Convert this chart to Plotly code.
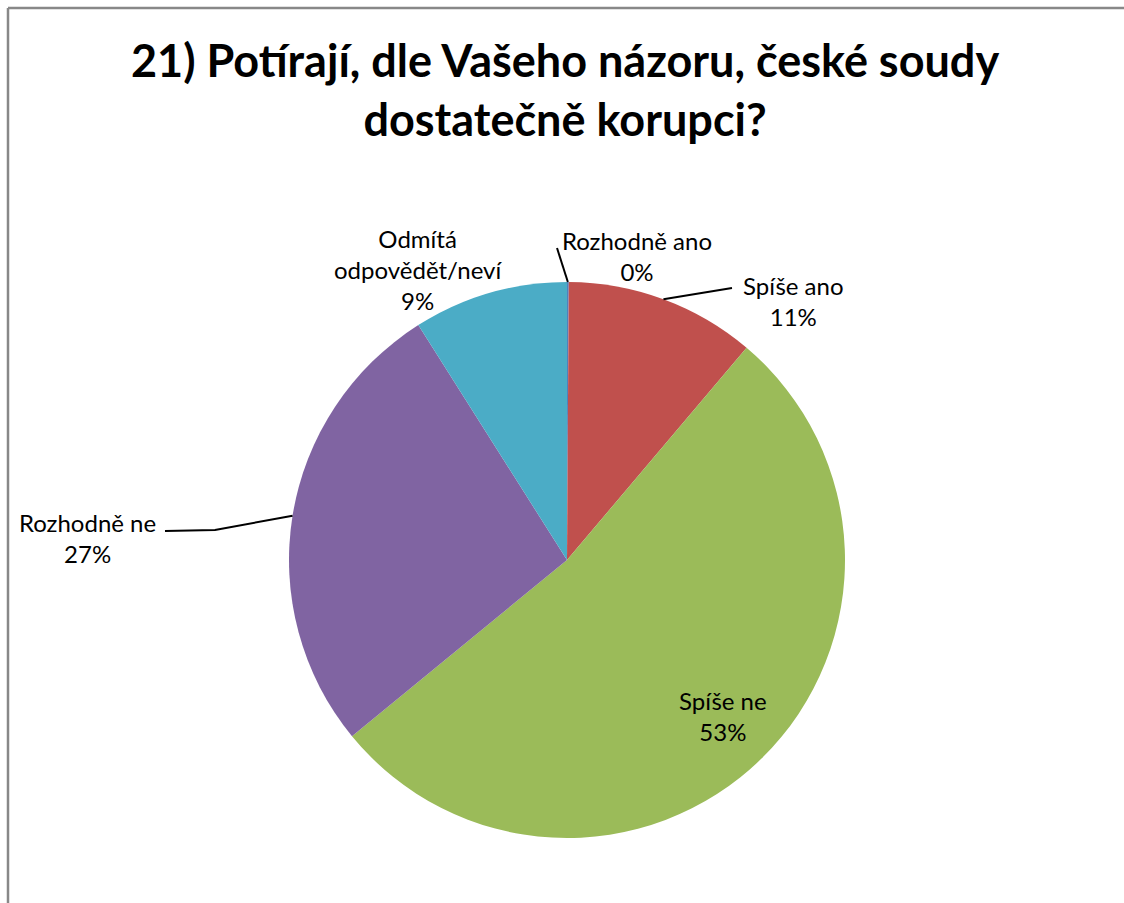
import numpy as np
import plotly.graph_objects as go

W, H = 1124, 903

title_lines = ["21) Potírají, dle Vašeho názoru, české soudy", "dostatečně korupci?"]
categories = ["Rozhodně ano", "Spíše ano", "Spíše ne", "Rozhodně ne", "Odmítá<br>odpovědět/neví"]
values = [0.1, 11.1, 53, 27, 9]
pct_labels = ["0%", "11%", "53%", "27%", "9%"]
colors = ["#4F81BD", "#C0504D", "#9BBB59", "#8064A2", "#4BACC6"]

# pie geometry (pixels)
cx, cy, R = 567, 560, 278

def px(x):
    return x / W

def py(y):
    return 1 - y / H

fig = go.Figure(go.Pie(
    labels=categories,
    values=values,
    marker=dict(colors=colors, line=dict(width=0)),
    sort=False,
    direction="clockwise",
    rotation=0,
    textinfo="none",
    hoverinfo="label+percent",
    showlegend=False,
    domain=dict(x=[px(cx - R), px(cx + R)], y=[py(cy + R), py(cy - R)]),
))

# mid angles of slices (clockwise from 12 o'clock)
v = np.array(values, dtype=float)
cum = np.cumsum(v) / v.sum()
start = np.concatenate([[0], cum[:-1]])
mid = (start + cum) / 2 * 2 * np.pi
anchors = [(cx + R * np.sin(a), cy - R * np.cos(a)) for a in mid]

font = "Lato, Carlito, Calibri, sans-serif"
label_font = dict(family=font, size=24, color="#000000")

# label centers and leader line ends (layout)
label_pos = {
    0: (637, 256),
    1: (793, 301),
    2: (723, 716),
    3: (87, 538),
    4: (418, 270),
}
leader = {
    0: [(557, 248)],
    1: [(732, 288)],
    3: [(215, 530), (165, 531)],
}

annotations = []
for i, (x, y) in label_pos.items():
    annotations.append(dict(
        x=px(x), y=py(y), xref="paper", yref="paper",
        text=f"{categories[i]}<br>{pct_labels[i]}",
        showarrow=False, font=label_font, align="center",
        xanchor="center", yanchor="middle",
    ))

annotations.append(dict(
    x=px(565), y=py(89), xref="paper", yref="paper",
    text="<b>" + "<br>".join(title_lines) + "</b>",
    showarrow=False, align="center", xanchor="center", yanchor="middle",
    font=dict(family=font, size=45, color="#000000"),
))

shapes = []
for i, pts in leader.items():
    ax, ay = anchors[i]
    path = f"M {px(ax)} {py(ay)}"
    for (x, y) in pts:
        path += f" L {px(x)} {py(y)}"
    shapes.append(dict(type="path", path=path, xref="paper", yref="paper",
                       line=dict(color="#000000", width=2)))

# chart frame
shapes.append(dict(type="line", xref="paper", yref="paper",
                   x0=px(8), y0=py(8), x1=1, y1=py(8),
                   line=dict(color="#888888", width=2.5)))
shapes.append(dict(type="line", xref="paper", yref="paper",
                   x0=px(8), y0=py(8), x1=px(8), y1=0,
                   line=dict(color="#888888", width=2.5)))

fig.update_layout(
    width=W, height=H,
    margin=dict(l=0, r=0, t=0, b=0),
    paper_bgcolor="#FFFFFF",
    plot_bgcolor="#FFFFFF",
    annotations=annotations,
    shapes=shapes,
)

fig.write_html("out.html",
               config={"displayModeBar": False},
               post_script="document.body.style.margin='0';document.body.style.overflow='hidden';")
